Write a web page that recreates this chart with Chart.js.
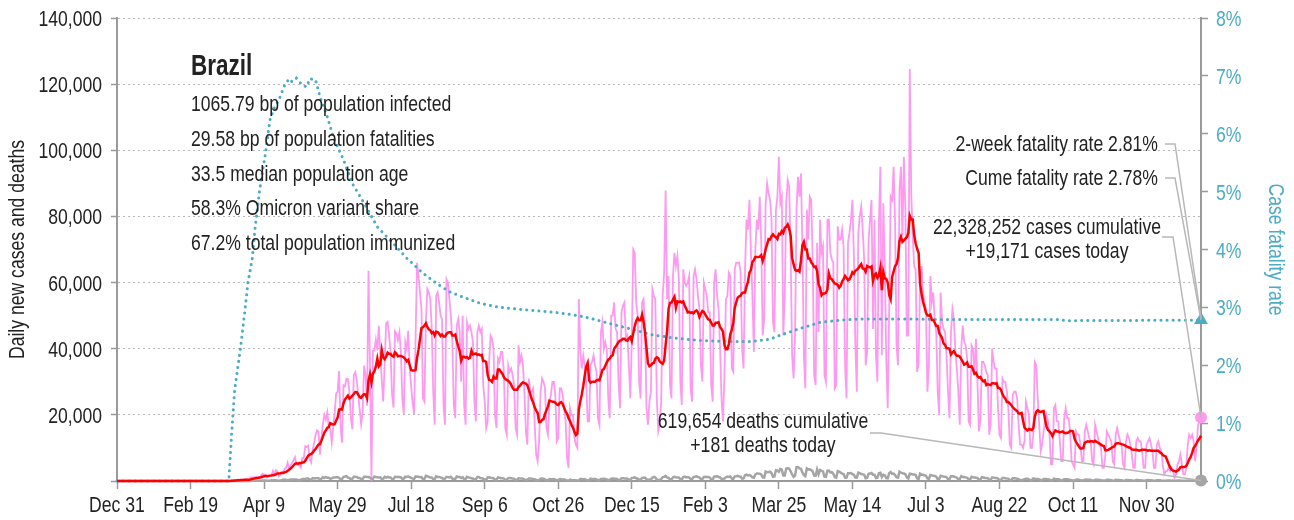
<!DOCTYPE html>
<html lang="en">
<head>
<meta charset="UTF-8">
<title>Brazil - daily new cases and deaths</title>
<script src="https://cdn.jsdelivr.net/npm/chart.js"></script>
<style>
  html, body { margin: 0; padding: 0; background: #fff; }
  #wrap { width: 1294px; height: 520px; }
</style>
</head>
<body>
<div id="wrap"><canvas id="covidChart" width="1294" height="520"></canvas></div>

<script>
  const FONT = "'Liberation Sans', Arial, sans-serif";
  const SQUEEZE = 0.8;            // narrow the type horizontally
  const TEXT = '#222222';
  const TEAL = '#4bacc6';
  const PINK = '#ff99f0';
  const RED = '#ff0000';
  const GREY = '#a5a5a5';
  const AXIS = '#9a9a9a';

  // day 0 = Dec 31, 2019
  const firstDay = Date.UTC(2019, 11, 31);
  const monthNames = ['Jan', 'Feb', 'Mar', 'Apr', 'May', 'Jun', 'Jul', 'Aug', 'Sep', 'Oct', 'Nov', 'Dec'];
  const xTickDays = [0, 50, 100, 150, 200, 250, 300, 350, 400, 450, 500, 550, 600, 650, 700];

  // daily new cases, thousands, one row per week
  const dailyCasesK = [
    0,0,0,0,0,0,0,
    0,0,0,0,0,0,0,
    0,0,0,0,0,0,0,
    0,0,0,0,0,0,0,
    0,0,0,0,0,0,0,
    0,0,0,0,0,0,0,
    0,0,0,0,0,0,0,
    0,0,0,0,0,0,0,
    0,0.001,0,0,0.001,0,0,
    0.002,0.005,0.005,0.006,0.003,0.006,0.006,
    0.015,0.018,0.025,0.021,0.023,0.079,0.034,
    0.057,0.137,0.193,0.283,0.224,0.418,0.345,
    0.31,0.232,0.482,0.502,0.487,0.352,0.323,
    1.138,1.119,1.074,1.146,1.222,0.852,0.926,
    1.661,2.21,1.93,1.781,1.089,1.261,1.442,
    1.832,3.058,2.105,3.257,2.917,1.454,1.927,
    2.498,2.678,3.735,4.007,5.514,3.379,4.613,
    5.385,6.276,7.218,5.015,4.898,4.726,4.075,
    6.935,6.835,10.503,10.222,10.611,6.638,5.632,
    9.258,11.385,13.944,15.305,14.919,7.938,13.14,
    17.408,19.951,18.508,20.803,16.508,15.813,11.687,
    16.324,20.599,26.417,26.928,33.274,16.409,11.598,
    28.936,28.633,30.925,30.83,27.075,18.912,15.654,
    32.091,32.913,30.412,25.982,21.704,17.11,20.647,
    34.918,32.188,22.765,63.6,34.666,0,39.436,
    39.436,42.725,39.483,46.907,38.693,30.476,24.052,
    35.8,47.7,48.1,44.2,38.9,26.1,22.2,
    45.3,44.6,42.6,45,39,24.8,20.3,
    41.9,39.9,45.4,34.2,28.5,23.5,20.3,
    43,66,62,57,52,25,24,
    48,58,57,55,46,27,17,
    56,57,54,50,49,23,17,
    61,60,55,50,42,23,19,
    47,49,45,30,50,23,17,
    48,46,47,45,42,24,18,
    45,47,45,46,29,24,16,
    18,36,44,43,40,20,16,
    37,36,39,39,33,16,14,
    35,33,34,32,29,16,14,
    41,36,38,35,27,15,11,
    31,27,27,28,17,8,6,
    12,27,31,30,28,16,14,
    24,26,30,30,26,12,13,
    28,28,26,22,18,7,4,
    22,20,20,13,11,10,55,
    40,34,38,35,30,18,18,
    35,36,38,35,33,19,17,
    45,48,40,42,40,25,19,
    50,50,54,46,45,30,22,
    51,53,54,43,44,35,25,
    42,70,69,54,50,30,25,
    54,55,46,22,17,24,27,
    58,56,55,25,15,17,24,
    56,63,87.8,55,62,29,25,
    62,69,65,68,61,30,23,
    64,60,59,60,62,28,24,
    62,64,61,56,52,35,30,
    60,58,56,51,51,29,24,
    60,64,56,52,41,25,18,
    32,55,56,63,62,34,33,
    64,66,66,66,63,40,34,
    64,79,76,85,69,56,39,
    70,79,76,86,72,44,49,
    84,90,87,85,79,48,45,
    82,86,98,84,86,44,56,
    84,91,89,70,38,31,44,
    82,92,86,93,71,38,28,
    82,73,86,85,67,32,29,
    72,45,79,69,71,32,30,
    79,79,69,67,66,28,29,
    77,73,73,76,71,35,25,
    72,75,79,85,68,41,27,
    75,80,83,76,67,35,39,
    73,79,85,46,79,38,30,
    78,95,38,84,66,37,22,
    52,86,85,95,78,41,35,
    88,95,74,98,82,44,44,
    124.6,87,74,65,64,33,35.4,
    60,65,57,54,52,27,35,
    62,54,57,48,45,27,20,
    57,48,46,45,38,27,19,
    45,52,49,39,34,27,17,
    40,47,42,41,37,18,17,
    41,40,33,43,30,15,18,
    36,36,35,33,32,14,17,
    40,36,34,34,22,14,13,
    31,30,30,27,22,11,10,
    26,27,27,25,17,11,11,
    10,12,24,22,20,10,10,
    14,36,35,25,17,9,11,
    15,18,20,18,14,5,5,
    22,23,18,18,12,6,6,
    19,22,19,19,15,6,5,
    4,15,14,14,11,6,6,
    15,17,15,13,12,6,5,
    17,15,13,11,10,4,4,
    8,15,14,13,12,6,5,
    14,16,14,12,11,5,4,
    12,14,13,11,8,4,4,
    12,13,12,12,9,4,4,
    11,12,13,11,9,4,4,
    11,12,10,9,5,2,3,
    3,4,3,4,3,1,2,
    5,6,8,5,2,2,4,
    11,14,13,14,12,6,10,
    17,18,19.171
  ];

  // daily deaths, one row per week
  const dailyDeaths = [
    0,0,0,0,0,0,0,
    0,0,0,0,0,0,0,
    0,0,0,0,0,0,0,
    0,0,0,0,0,0,0,
    0,0,0,0,0,0,0,
    0,0,0,0,0,0,0,
    0,0,0,0,0,0,0,
    0,0,0,0,0,0,0,
    0,0,0,0,0,0,0,
    0,0,0,0,0,0,0,
    0,0,0,0,0,0,0,
    1,3,4,3,7,9,12,
    12,13,18,15,22,22,23,
    40,42,58,60,73,54,67,
    114,133,141,115,68,99,105,
    204,188,217,206,115,113,166,
    165,407,357,346,189,338,474,
    450,440,430,420,280,270,300,
    600,615,610,750,730,496,396,
    881,749,844,824,816,485,674,
    1179,888,1188,1001,965,653,807,
    1039,1086,1156,1124,956,480,623,
    1262,1349,1473,1005,904,525,679,
    1272,1274,1239,909,892,612,627,
    1282,1269,1238,1206,1022,641,654,
    1374,1185,1141,1055,1109,552,692,
    1280,1038,1252,1091,1071,602,620,
    1254,1223,1220,1214,1071,631,733,
    1300,1233,1322,1163,921,716,632,
    1367,1284,1311,1156,1211,555,614,
    1595,1437,1212,1088,1048,541,561,
    1394,1226,1237,1079,905,572,703,
    1274,1175,1060,1262,709,620,684,
    1352,1204,1204,892,1170,494,620,
    1271,1085,970,855,758,366,553,
    1215,1184,888,833,682,447,310,
    1075,1136,983,874,814,415,377,
    1090,987,829,858,739,363,377,
    869,906,831,729,691,335,317,
    814,778,732,656,490,323,366,
    734,729,696,561,505,299,203,
    272,713,754,665,459,230,217,
    566,505,497,571,432,249,231,
    572,522,398,481,256,191,124,
    417,239,259,228,216,120,181,
    591,632,468,610,357,191,216,
    692,598,640,611,496,199,271,
    630,654,691,638,463,285,317,
    697,755,672,664,588,307,304,
    842,862,764,788,689,339,435,
    941,968,1092,818,703,350,428,
    901,962,1031,510,392,450,421,
    1074,1224,1036,426,314,293,593,
    1171,1242,1524,1035,963,469,480,
    1110,1274,1151,1050,1050,551,452,
    1183,1340,1096,1188,1054,595,627,
    1214,1283,1386,1232,1050,592,595,
    1209,1274,1232,1239,1051,527,452,
    1350,1330,1452,1213,1074,597,647,
    713,1149,1367,1251,1386,725,639,
    1386,1428,1541,1337,1275,721,778,
    1726,1910,1699,1800,1555,1086,987,
    1972,2286,2233,2216,1997,1127,1057,
    2841,2648,2724,2815,2438,1290,1383,
    3251,3158,2777,3650,3439,1656,1660,
    3780,3869,3769,2922,1987,1240,1623,
    4195,4249,3829,3693,2616,1803,1480,
    3808,3459,3560,3305,2865,1657,1607,
    3472,2027,3305,3076,2914,1347,1279,
    3120,3163,2572,2656,2201,1202,983,
    2966,2811,2550,2202,2091,1024,1054,
    2311,2311,2383,2087,1886,1036,1003,
    2517,2383,2108,2012,1876,860,993,
    2158,2247,2400,1914,1882,893,980,
    2346,2500,1208,1864,1729,865,789,
    2341,2693,2145,2229,1780,1092,1011,
    2843,2567,2311,2298,2041,1109,770,
    2212,2109,1993,1988,1813,750,600,
    2200,1914,1863,1745,1581,764,628,
    1833,1711,1577,1503,1307,558,583,
    1584,1458,1326,1258,1125,542,542,
    1449,1438,1359,1153,1028,494,578,
    1466,1199,1233,1108,932,542,500,
    1270,1131,1076,1001,910,381,448,
    1161,1052,933,902,837,397,365,
    1117,1025,896,879,701,324,358,
    913,872,808,756,717,284,262,
    840,808,758,692,555,261,288,
    280,581,678,657,501,230,284,
    811,683,630,609,513,246,201,
    623,639,574,540,425,219,186,
    691,587,559,507,400,186,259,
    512,554,524,450,402,215,176,
    167,359,450,378,268,101,201,
    397,451,406,379,353,136,127,
    404,412,371,301,235,118,115,
    100,401,354,301,242,92,121,
    345,299,281,241,196,70,60,
    305,292,253,235,190,85,95,
    303,271,235,220,172,70,82,
    258,266,223,198,157,76,90,
    200,224,209,142,99,45,84,
    163,173,140,108,120,68,58,
    151,141,147,104,47,39,56,
    153,134,161,93,78,40,68,
    170,130,181
  ];

  // cumulative case fatality rate (%)
  const cfrDay = [0, 76, 78, 80, 84, 87, 89, 92, 94, 97, 101, 104, 107, 110, 114, 117, 119, 122, 126, 129,
    131, 135, 138, 143, 147, 154, 160, 168, 177, 188, 197, 208, 217, 226, 236, 247, 258, 272, 286, 299,
    313, 322, 335, 349, 363, 376, 390, 403, 417, 431, 444, 451, 465, 478, 492, 505, 519, 537, 560, 640,
    645, 737];
  const cfrPct = [0, 0, 0.83, 1.57, 2.3, 2.95, 3.42, 3.85, 4.4, 5.03, 5.67, 6.24, 6.45, 6.58, 6.84, 6.95, 6.9, 6.96, 6.84, 6.81,
    6.95, 6.93, 6.64, 6.29, 5.95, 5.55, 5.14, 4.8, 4.39, 4.1, 3.85, 3.59, 3.42, 3.27, 3.17, 3.07, 3.01, 2.97, 2.94, 2.91,
    2.86, 2.81, 2.72, 2.63, 2.53, 2.48, 2.44, 2.42, 2.41, 2.41, 2.45, 2.52, 2.64, 2.74, 2.78, 2.8, 2.8, 2.8, 2.79, 2.79,
    2.77, 2.78];

  const country = 'Brazil';
  const statLines = [
    '1065.79 bp of population infected',
    '29.58 bp of population fatalities',
    '33.5 median population age',
    '58.3% Omicron variant share',
    '67.2% total population immunized'
  ];
  const cumulativeCases = 22328252;
  const cumulativeDeaths = 619654;
  const twoWeekRate = 2.81;

  const lastDay = dailyCasesK.length - 1;
  const lastCfr = cfrPct.length - 1;

  // trailing 7-day mean of the daily cases
  const avgCasesK = dailyCasesK.map((v, i) => {
    const win = dailyCasesK.slice(Math.max(0, i - 6), i + 1);
    return win.reduce((a, b) => a + b, 0) / win.length;
  });

  const fmt = n => n.toLocaleString('en-US');
  const dayLabel = v => {
    const d = new Date(firstDay + v * 86400000);
    return monthNames[d.getUTCMonth()] + ' ' + d.getUTCDate();
  };

  // narrow text: regular face squeezed on the x axis of the text
  function putText(ctx, str, x, y, o = {}) {
    ctx.save();
    ctx.translate(x, y);
    if (o.rotate) ctx.rotate(o.rotate);
    ctx.scale(o.squeeze || SQUEEZE, 1);
    ctx.font = o.font || ('22px ' + FONT);
    ctx.fillStyle = o.color || TEXT;
    ctx.textAlign = o.align || 'left';
    ctx.textBaseline = o.baseline || 'alphabetic';
    ctx.fillText(str, 0, 0);
    ctx.restore();
  }

  // tick labels, axis titles, text block and leader lines
  const notes = {
    id: 'notes',
    afterDraw(chart) {
      const { ctx, chartArea, scales: { x, y, y2 } } = chart;
      const xEnd = x.getPixelForValue(lastDay);
      const todayCases = Math.round(dailyCasesK[lastDay] * 1000);
      const todayDeaths = dailyDeaths[lastDay];

      x.ticks.forEach(t => putText(ctx, dayLabel(t.value), x.getPixelForValue(t.value), 512, { align: 'center' }));
      y.ticks.forEach(t => {
        if (t.value !== 0) putText(ctx, fmt(t.value), 102, y.getPixelForValue(t.value) + 8, { align: 'right' });
      });
      y2.ticks.forEach(t => putText(ctx, t.value + '%', 1216, y2.getPixelForValue(t.value) + 8, { color: TEAL }));

      const midY = (chartArea.top + chartArea.bottom) / 2;
      putText(ctx, 'Daily new cases and deaths', 18, midY, { rotate: -Math.PI / 2, align: 'center', baseline: 'middle' });
      putText(ctx, 'Case fatality rate', 1275, midY, { rotate: Math.PI / 2, align: 'center', baseline: 'middle', color: TEAL });

      ctx.save();
      ctx.strokeStyle = '#b8b8b8';
      ctx.lineWidth = 1.5;
      const leader = (x0, x1, yy, tx, ty) => {
        ctx.beginPath();
        ctx.moveTo(x0, yy);
        ctx.lineTo(x1, yy);
        ctx.lineTo(tx, ty);
        ctx.stroke();
      };
      leader(1165, 1175, 144, xEnd, y2.getPixelForValue(twoWeekRate));
      leader(1165, 1175, 178, xEnd, y2.getPixelForValue(cfrPct[lastCfr]));
      leader(1162, 1173, 237, xEnd, y.getPixelForValue(todayCases));
      leader(870, 881, 433, xEnd, y.getPixelForValue(todayDeaths));
      ctx.restore();

      putText(ctx, country, 191, 75, { font: 'bold 30px ' + FONT, squeeze: 0.75 });
      statLines.forEach((s, i) => putText(ctx, s, 191, 111 + i * 34.75));

      putText(ctx, '2-week fatality rate ' + twoWeekRate.toFixed(2) + '%', 1158, 151, { align: 'right' });
      putText(ctx, 'Cume fatality rate ' + cfrPct[lastCfr].toFixed(2) + '%', 1158, 185, { align: 'right' });
      putText(ctx, fmt(cumulativeCases) + ' cases cumulative', 1047, 234, { align: 'center' });
      putText(ctx, '+' + fmt(todayCases) + ' cases today', 1047, 258, { align: 'center' });
      putText(ctx, fmt(cumulativeDeaths) + ' deaths cumulative', 763, 428, { align: 'center' });
      putText(ctx, '+' + fmt(todayDeaths) + ' deaths today', 763, 452, { align: 'center' });
    }
  };

  const endOnly = (last, r) => c => (c.dataIndex === last ? r : 0);

  new Chart(document.getElementById('covidChart'), {
    type: 'line',
    data: {
      datasets: [
        {
          label: 'Daily new cases',
          data: dailyCasesK.map((v, i) => ({ x: i, y: v * 1000 })),
          yAxisID: 'y',
          borderColor: PINK,
          borderWidth: 1.8,
          pointRadius: endOnly(lastDay, 6),
          pointBackgroundColor: PINK,
          pointBorderWidth: 0,
          clip: false,
          order: 4
        },
        {
          label: 'Case fatality rate',
          data: cfrDay.map((d, i) => ({ x: d, y: cfrPct[i] })),
          yAxisID: 'y2',
          borderColor: TEAL,
          borderWidth: 3,
          borderDash: [0.1, 6],
          borderCapStyle: 'round',
          pointStyle: 'triangle',
          pointRadius: endOnly(lastCfr, 8),
          pointBackgroundColor: TEAL,
          pointBorderWidth: 0,
          clip: false,
          order: 3
        },
        {
          label: 'Daily deaths',
          data: dailyDeaths.map((v, i) => ({ x: i, y: v })),
          yAxisID: 'y',
          borderColor: GREY,
          borderWidth: 2.5,
          pointRadius: endOnly(lastDay, 6),
          pointBackgroundColor: GREY,
          pointBorderWidth: 0,
          clip: false,
          order: 2
        },
        {
          label: '7-day average',
          data: avgCasesK.map((v, i) => ({ x: i, y: v * 1000 })),
          yAxisID: 'y',
          borderColor: RED,
          borderWidth: 2.5,
          pointRadius: 0,
          clip: false,
          order: 1
        }
      ]
    },
    options: {
      responsive: false,
      animation: false,
      events: [],
      devicePixelRatio: 1,
      layout: { padding: { top: 18, left: 0, right: 0, bottom: 0 } },
      plugins: {
        legend: { display: false },
        tooltip: { enabled: false }
      },
      scales: {
        x: {
          type: 'linear',
          min: 0,
          max: lastDay,
          afterBuildTicks: s => { s.ticks = xTickDays.map(v => ({ value: v })); },
          afterFit: s => { s.height = 39; },
          grid: { drawOnChartArea: false, tickLength: 8, tickColor: AXIS, tickWidth: 1.5 },
          border: { color: AXIS, width: 2 },
          ticks: { display: false }
        },
        y: {
          position: 'left',
          min: 0,
          max: 140000,
          afterFit: s => { s.width = 117; },
          grid: { color: '#b9b9b9', lineWidth: 1, tickLength: 6, tickColor: AXIS, tickWidth: 1.5 },
          border: { color: AXIS, width: 2, dash: [2, 3] },
          ticks: { display: false, stepSize: 20000 }
        },
        y2: {
          position: 'right',
          min: 0,
          max: 8,
          afterFit: s => { s.width = 93; },
          grid: { drawOnChartArea: false, tickLength: 7, tickColor: AXIS, tickWidth: 1.5 },
          border: { color: AXIS, width: 2 },
          ticks: { display: false, stepSize: 1 }
        }
      }
    },
    plugins: [notes]
  });
</script>
</body>
</html>
